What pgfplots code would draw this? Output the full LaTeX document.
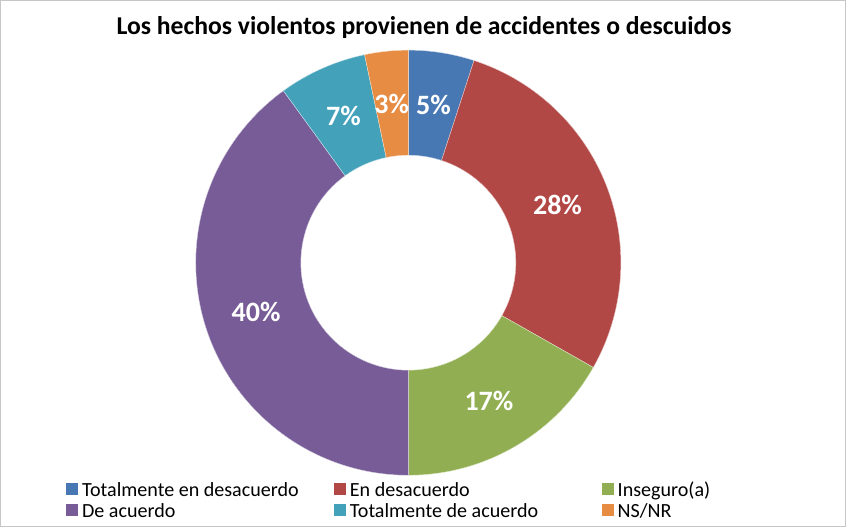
\documentclass[border=0pt]{standalone}
\usepackage{pgfplots}
\pgfplotsset{compat=1.18}
\usepackage{pgfplotstable}
\usepackage{fontspec}
\setmainfont{Carlito}

\definecolor{c0}{HTML}{4878B3}
\definecolor{c1}{HTML}{B24845}
\definecolor{c2}{HTML}{91AF52}
\definecolor{c3}{HTML}{775C98}
\definecolor{c4}{HTML}{43A1BA}
\definecolor{c5}{HTML}{E68C43}

% shares in percent, clockwise from 12 o'clock
\pgfplotstableread{
share
5.0
28.2
16.8
40.0
6.7
3.3
}\donutdata

\newcommand\Ro{163.1pt}  % outer radius
\newcommand\Ri{82.5pt}   % inner radius
\newcommand\Rd{80.6pt}   % ring thickness
\newcommand\Rm{122.8pt}  % label radius
\newcommand\legtext[1]{\makebox[190.5pt][l]{\rule[-4.5pt]{0pt}{16.5pt}#1}}

\begin{document}
\begin{tikzpicture}
\pgfplotstablegetrowsof{\donutdata}
\pgfmathtruncatemacro{\lastrow}{\pgfplotsretval-1}
\gdef\cumsum{0}
\foreach \i in {0,...,\lastrow}{
  \pgfplotstablegetelem{\i}{share}\of{\donutdata}
  \let\v\pgfplotsretval
  \pgfmathsetmacro{\s}{90-3.6*\cumsum}
  \pgfmathsetmacro{\newcum}{\cumsum+\v}
  \xdef\cumsum{\newcum}
  \pgfmathsetmacro{\e}{90-3.6*\cumsum}
  \pgfmathtruncatemacro{\r}{round(\v)}
  \expandafter\xdef\csname sa\i\endcsname{\s}
  \expandafter\xdef\csname ea\i\endcsname{\e}
  \expandafter\xdef\csname val\i\endcsname{\r}
}
\begin{axis}[
    width=649.5pt, height=404.25pt, scale only axis,
    xmin=0, xmax=866, ymin=0, ymax=539, y dir=reverse,
    hide axis, clip=false,
    legend columns=3,
    legend style={at={(0.0785,0.0872)}, anchor=north west, draw=none, fill=none,
        inner sep=0pt, column sep=3pt, row sep=2.5pt,
        font=\fontsize{15.4}{16}\selectfont, nodes={inner sep=0pt}},
    legend image code/.code={\fill[#1] (0pt,-3.9pt) rectangle (9pt,5.1pt);},
]
\draw[gray!45] (axis cs:0.5,0.5) rectangle (axis cs:865.5,538.5);
\node[font=\fontsize{19.7}{22}\selectfont\bfseries, anchor=base] at (axis cs:434,36)
    {Los hechos violentos provienen de accidentes o descuidos};

\pgfplotsinvokeforeach{0,...,5}{
  \fill[c#1, draw=white!70!c#1, line width=0.3pt] (axis cs:418,269) ++(\csname sa#1\endcsname:\Ro)
    arc[start angle=\csname sa#1\endcsname, end angle=\csname ea#1\endcsname, radius=\Ro]
    -- ++(\csname ea#1\endcsname+180:\Rd)
    arc[start angle=\csname ea#1\endcsname, end angle=\csname sa#1\endcsname, radius=\Ri]
    -- cycle;
}
\pgfplotsinvokeforeach{0,...,5}{
  \path (axis cs:418,269) ++({(\csname sa#1\endcsname+\csname ea#1\endcsname)/2}:\Rm)
    node[text=white, font=\fontsize{21.5}{24}\selectfont\bfseries]
    {\csname val#1\endcsname\%};
}

\addlegendimage{fill=c0, draw=none}\addlegendentry{\legtext{Totalmente en desacuerdo}}
\addlegendimage{fill=c1, draw=none}\addlegendentry{\legtext{En desacuerdo}}
\addlegendimage{fill=c2, draw=none}\addlegendentry{\legtext{Inseguro(a)}}
\addlegendimage{fill=c3, draw=none}\addlegendentry{\legtext{De acuerdo}}
\addlegendimage{fill=c4, draw=none}\addlegendentry{\legtext{Totalmente de acuerdo}}
\addlegendimage{fill=c5, draw=none}\addlegendentry{\legtext{NS/NR}}
\end{axis}
\end{tikzpicture}
\end{document}
